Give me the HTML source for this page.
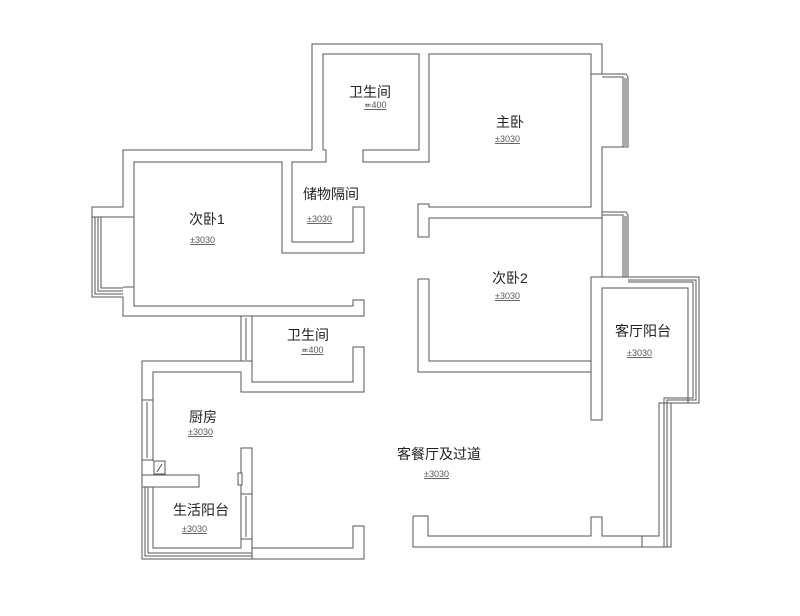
<!DOCTYPE html>
<html><head><meta charset="utf-8"><style>
html,body{margin:0;padding:0;background:#fff;width:800px;height:616px;overflow:hidden}
svg{display:block}
text{font-family:"Liberation Sans","Noto Sans CJK SC",sans-serif;fill:#222}
.l{font-size:14px}
.e{font-size:9px;fill:#555;text-decoration:underline}
</style></head><body>
<svg width="800" height="616" viewBox="0 0 800 616" xmlns="http://www.w3.org/2000/svg">
<g fill="#fff" stroke="#555" stroke-width="1">
<polyline fill="none" points="312,150 312,44 602,44 602,74"/>
<polyline fill="none" points="323,150 323,54 419,54 419,150 363,150 363,162 429,162 429,54 591,54 591,74 602,74"/>
<polyline fill="none" points="602,74 626,74 628,77 628,147 602,147"/>
<polyline fill="none" points="602,77 623,77 623,147"/>
<rect x="623" y="78" width="4" height="68" fill="#aaa" stroke="none"/>
<polyline fill="none" points="591,74 591,207 429,207 429,204 418,204 418,237 429,237 429,218 602,218 602,147 628,147"/>
<polyline fill="none" points="602,212 626,212 628,215 628,277"/>
<polyline fill="none" points="602,215 623,215 623,277"/>
<rect x="623" y="216" width="4" height="61" fill="#aaa" stroke="none"/>
<line x1="602" y1="212" x2="602" y2="277"/>
<polyline fill="none" points="312,150 123,150 123,207 92,207 92,297 123,297 123,316 353,316"/>
<polyline fill="none" points="323,150 326,150 326,162 292,162 292,242 353,242 353,207 364,207 364,253 282,253 282,162 134,162 134,217 92,217"/>
<polyline fill="none" points="134,217 134,287 123,287"/>
<polyline fill="none" points="95,217 95,294 123,294"/>
<polyline fill="none" points="98,217 98,291 123,291"/>
<polyline fill="none" points="101,217 101,288 123,288"/>
<polyline fill="none" points="134,287 134,306 353,306 353,300 364,300 364,316 353,316"/>
<rect x="241" y="316" width="11" height="45"/>
<line x1="246" y1="318" x2="246" y2="360"/>
<polyline fill="none" points="252,316 252,382 353,382 353,347 364,347 364,392 241,392 241,372 153,372 153,461"/>
<polyline fill="none" points="241,361 142,361 142,559 364,559 364,526 353,526 353,548 252,548"/>
<rect x="142" y="400" width="11" height="60"/>
<line x1="147" y1="402" x2="147" y2="458"/>
<rect x="142" y="475" width="57" height="12"/>
<rect x="154" y="461" width="11" height="13"/>
<line x1="157" y1="472" x2="162" y2="464"/>
<polyline fill="none" points="145,487 145,556 252,556"/>
<polyline fill="none" points="148,487 148,553 252,553"/>
<polyline fill="none" points="153,487 153,548 241,548 241,539"/>
<rect x="241" y="448" width="11" height="46"/>
<rect x="238" y="473" width="4" height="12"/>
<rect x="241" y="494" width="11" height="45"/>
<line x1="246" y1="496" x2="246" y2="537"/>
<line x1="252" y1="539" x2="252" y2="559"/>
<polyline fill="none" points="413,516 428,516 428,536 591,536 591,517 602,517 602,536 659,536 659,403 688,403 688,288 602,288 602,420 591,420 591,277 699,277 699,403 671,403 671,547 413,547 413,516"/>
<polyline fill="none" points="642,536 642,547"/>
<polyline fill="none" points="664,547 664,398 693,398 693,282 628,282"/>
<polyline fill="none" points="667,547 667,400 696,400 696,280 628,280"/>
<polyline fill="none" points="418,279 418,372 591,372"/>
<polyline fill="none" points="429,279 429,361 591,361"/>
<line x1="418" y1="279" x2="429" y2="279"/>
</g>
<g>
<text class="l" x="349" y="97">卫生间</text>
<text class="e" x="364" y="108">≖400</text>
<text class="l" x="496" y="127">主卧</text>
<text class="e" x="495" y="142">±3030</text>
<text class="l" x="303" y="199">储物隔间</text>
<text class="e" x="307" y="222">±3030</text>
<text class="l" x="189" y="224">次卧1</text>
<text class="e" x="190" y="243">±3030</text>
<text class="l" x="492" y="283">次卧2</text>
<text class="e" x="495" y="299">±3030</text>
<text class="l" x="287" y="340">卫生间</text>
<text class="e" x="301" y="353">≖400</text>
<text class="l" x="615" y="336">客厅阳台</text>
<text class="e" x="627" y="356">±3030</text>
<text class="l" x="189" y="422">厨房</text>
<text class="e" x="188" y="435">±3030</text>
<text class="l" x="397" y="459">客餐厅及过道</text>
<text class="e" x="424" y="477">±3030</text>
<text class="l" x="173" y="515">生活阳台</text>
<text class="e" x="182" y="532">±3030</text>
</g>
</svg>
</body></html>
